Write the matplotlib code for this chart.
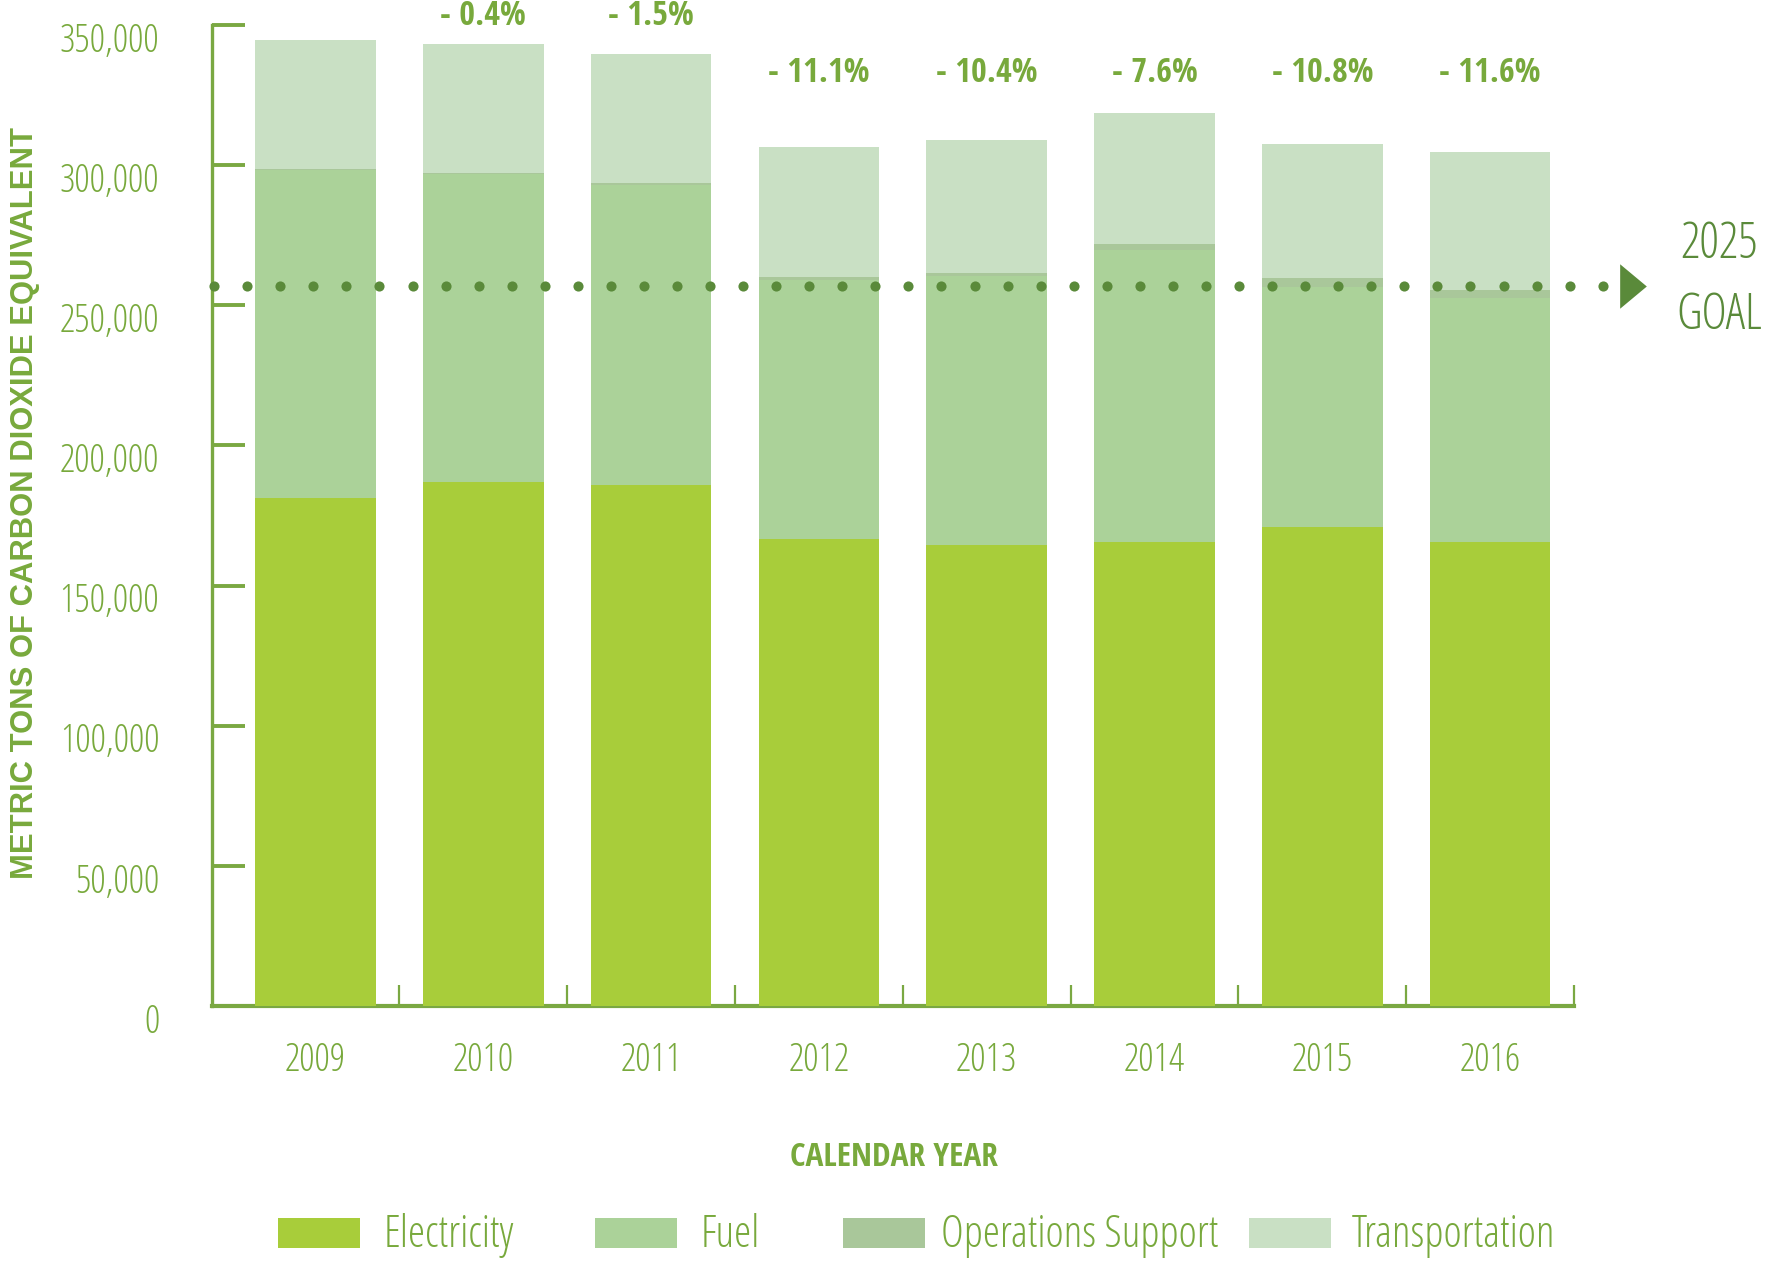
import os
import matplotlib
matplotlib.use("Agg")
import matplotlib.pyplot as plt
import matplotlib.font_manager as fm
import matplotlib.transforms as mtransforms
from matplotlib.textpath import TextPath
from matplotlib.patches import Rectangle
import numpy as np

# ---------------- data ----------------
years = ["2009", "2010", "2011", "2012", "2013", "2014", "2015", "2016"]
electricity = [181400, 187000, 185800, 166500, 164500, 165700, 171000, 165700]
fuel = [117000, 109800, 107000, 92500, 96100, 104200, 85700, 86900]
operations_support = [350, 350, 700, 1000, 800, 1800, 2900, 2900]
transportation = [45950, 46150, 46000, 46400, 47400, 46800, 47900, 49200]
change_labels = ["", "- 0.4%", "- 1.5%", "- 11.1%", "- 10.4%", "- 7.6%", "- 10.8%", "- 11.6%"]
goal_2025 = 257000
y_ticks = [0, 50000, 100000, 150000, 200000, 250000, 300000, 350000]
y_tick_labels = ["0", "50,000", "100,000", "150,000", "200,000", "250,000", "300,000", "350,000"]
series_names = ["Electricity", "Fuel", "Operations Support", "Transportation"]

# ---------------- style ----------------
C_ELEC = "#A8CD3A"
C_FUEL = "#ABD299"
C_OPS = "#A9C79A"
C_TRANS = "#C9E0C4"
C_TEXT = "#78A93C"
C_AXIS = "#7AA842"
C_DARK = "#5A8A3A"

W, H, DPI = 1768, 1262, 100


def _weight(e):
    w = e.weight
    if isinstance(w, str):
        w = fm.weight_dict.get(w, 400)
    return int(w)


def pick_font(bold):
    allowed = ["Liberation Sans", "DejaVu Sans", "Roboto", "Open Sans", "Lato", "Inter", "Noto Sans"]
    best, best_r = None, 1e9
    for e in fm.fontManager.ttflist:
        n = e.name
        if not any(n.startswith(a) for a in allowed):
            continue
        if any(k in n for k in ["Mono", "CJK", "Math", "Symbol", "Emoji"]):
            continue
        if n.startswith("Noto Sans") and n not in ("Noto Sans", "Noto Sans Display") and not any(
            k in n for k in ["Cond", "Narrow"]):
            continue
        if e.style != "normal":
            continue
        w = _weight(e)
        if bold and not (600 <= w <= 800):
            continue
        if not bold and not (300 <= w <= 500):
            continue
        try:
            fp = fm.FontProperties(fname=e.fname)
            wd = TextPath((0, 0), "350,000 Electricity", size=100, prop=fp).get_extents().width
            ht = TextPath((0, 0), "E", size=100, prop=fp).get_extents().height
            r = wd / ht
        except Exception:
            continue
        if r < best_r:
            best_r, best = r, e
    return best


reg = pick_font(False)
bld = pick_font(True)
FP_REG = fm.FontProperties(fname=reg.fname) if reg else fm.FontProperties(family="DejaVu Sans")
FP_BLD = fm.FontProperties(fname=bld.fname) if bld else fm.FontProperties(family="DejaVu Sans", weight="bold")
FP_YLAB = fm.FontProperties(family=["Liberation Sans", "DejaVu Sans"], weight="bold")


def fp(base, size):
    p = base.copy()
    p.set_size(size)
    return p


fig = plt.figure(figsize=(W / DPI, H / DPI), dpi=DPI)
fig.patch.set_facecolor("white")

# axes placement (pixel based)
ax_l, ax_r, ax_t, ax_b = 212, 1574, 25, 1006
ax = fig.add_axes([ax_l / W, 1 - ax_b / H, (ax_r - ax_l) / W, (ax_b - ax_t) / H])

x = np.arange(len(years))
bw = 0.718
bottom = np.zeros(len(years))
for vals, col in [(electricity, C_ELEC), (fuel, C_FUEL), (operations_support, C_OPS), (transportation, C_TRANS)]:
    ax.bar(x, vals, width=bw, bottom=bottom, color=col, linewidth=0, zorder=3)
    bottom = bottom + np.array(vals)
totals = bottom

ax.set_xlim(-0.617, 7.49)
ax.set_ylim(0, 350000)

for s in ["top", "right"]:
    ax.spines[s].set_visible(False)
ax.spines["left"].set_color(C_AXIS)
ax.spines["left"].set_linewidth(2.4)
ax.spines["bottom"].set_color(C_AXIS)
ax.spines["bottom"].set_linewidth(3.0)
ax.spines["left"].set_zorder(4)
ax.spines["bottom"].set_zorder(2)

# y axis ticks
ax.set_yticks(y_ticks)
ax.set_yticklabels(y_tick_labels, fontproperties=fp(FP_REG, 27.5), color=C_TEXT)
ax.tick_params(axis="y", direction="in", length=24, width=2.8, color=C_AXIS, pad=38)
off = mtransforms.ScaledTranslation(0, -12 / DPI, fig.dpi_scale_trans)
for lbl in ax.get_yticklabels():
    lbl.set_transform(lbl.get_transform() + off)

# x axis ticks: labels at bar centers, tick marks between bars
ax.set_xticks(x)
ax.set_xticklabels(years, fontproperties=fp(FP_REG, 27.5), color=C_TEXT)
ax.tick_params(axis="x", which="major", length=0, pad=47)
for lbl in ax.get_xticklabels():
    lbl.set_va("baseline")
ax.set_xticks(x + 0.5, minor=True)
ax.tick_params(axis="x", which="minor", direction="in", length=15, width=1.6, color=C_AXIS)

# percent change labels
for xi, lab, tot in zip(x, change_labels, totals):
    if not lab:
        continue
    ly = 350000 if tot > 330000 else 329500
    ax.text(xi, ly, lab, ha="center", va="baseline", color=C_TEXT,
            fontproperties=fp(FP_BLD, 24.5), clip_on=False, zorder=6)

# goal line (dots) + arrow
n_dots = 43
ax.plot(np.linspace(-0.604, 7.671, n_dots), [goal_2025] * n_dots, linestyle="none", marker="o",
        markersize=7.3, markeredgewidth=0, color=C_DARK, clip_on=False, zorder=7)
tri = [(-0.6, -1.0), (0.6, 0.0), (-0.6, 1.0), (-0.6, -1.0)]
arrow_x = 7.85
ax.plot([arrow_x], [goal_2025], marker=tri, markersize=32, markeredgewidth=0, color=C_DARK,
        linestyle="none", clip_on=False, zorder=7)
ax.annotate("2025", xy=(arrow_x, goal_2025), xytext=(86 / 1.389, 41 / 1.389), textcoords="offset points",
            ha="center", va="center", color=C_DARK, fontproperties=fp(FP_REG, 35), annotation_clip=False)
ax.annotate("GOAL", xy=(arrow_x, goal_2025), xytext=(87 / 1.389, -30 / 1.389), textcoords="offset points",
            ha="center", va="center", color=C_DARK, fontproperties=fp(FP_REG, 35), annotation_clip=False)

# axis titles
fig.text(25 / W, 1 - 503 / H, "METRIC TONS OF CARBON DIOXIDE EQUIVALENT", rotation=90,
         ha="center", va="center", color=C_TEXT, fontproperties=fp(FP_YLAB, 22.3))
fig.text(894 / W, 1 - 1158 / H, "CALENDAR YEAR", ha="center", va="center", color=C_TEXT,
         fontproperties=fp(FP_BLD, 24))

# legend (manual placement)
leg_cols = [C_ELEC, C_FUEL, C_OPS, C_TRANS]
patch_x = [278, 595, 843, 1249]
text_x = [384, 701, 941, 1352]
for nm, col, px, tx in zip(series_names, leg_cols, patch_x, text_x):
    fig.patches.append(Rectangle((px / W, 1 - 1248 / H), 82 / W, 30 / H, transform=fig.transFigure,
                                 facecolor=col, edgecolor="none"))
    fig.text(tx / W, 1 - 1247 / H, nm, ha="left", va="baseline", color=C_TEXT,
             fontproperties=fp(FP_REG, 31.5))

fig.savefig("out.png", dpi=DPI, facecolor="white")
